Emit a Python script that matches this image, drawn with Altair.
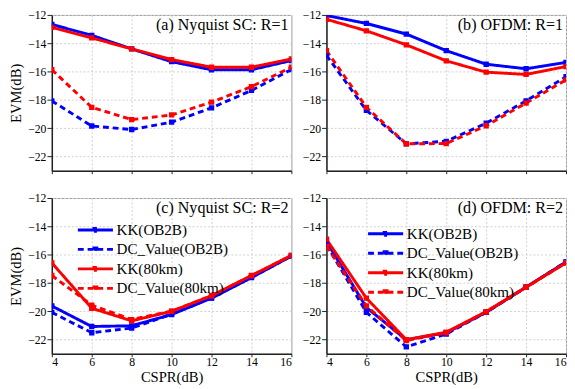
import altair as alt
import pandas as pd

cspr = [4, 6, 8, 10, 12, 14, 16]
series_names = ["KK(OB2B)", "DC_Value(OB2B)", "KK(80km)", "DC_Value(80km)"]
series_colors = ["#0000ff", "#0000ff", "#ff0000", "#ff0000"]
series_dashes = [[1, 0], [6, 4], [1, 0], [6, 4]]

panel_titles = ["(a) Nyquist SC: R=1", "(b) OFDM: R=1", "(c) Nyquist SC: R=2", "(d) OFDM: R=2"]

# (a) Nyquist SC, R=1
a_kk_ob2b = [-12.67, -13.44, -14.40, -15.30, -15.87, -15.87, -15.22]
a_dc_ob2b = [-18.07, -19.84, -20.09, -19.57, -18.56, -17.33, -15.85]
a_kk_80 = [-12.88, -13.62, -14.40, -15.15, -15.69, -15.69, -15.11]
a_dc_80 = [-15.87, -18.52, -19.39, -19.06, -18.16, -17.06, -15.69]

# (b) OFDM, R=1
b_kk_ob2b = [-12.04, -12.60, -13.35, -14.52, -15.48, -15.80, -15.35]
b_dc_ob2b = [-14.85, -18.74, -21.10, -20.92, -19.64, -18.07, -16.36]
b_kk_80 = [-12.31, -13.12, -14.11, -15.24, -16.04, -16.20, -15.64]
b_dc_80 = [-14.52, -18.52, -21.10, -21.08, -19.82, -18.22, -16.58]

# (c) Nyquist SC, R=2
c_kk_ob2b = [-19.62, -21.07, -21.02, -20.22, -19.07, -17.62, -16.10]
c_dc_ob2b = [-20.07, -21.51, -21.18, -20.20, -19.05, -17.60, -16.08]
c_kk_80 = [-16.58, -19.78, -20.67, -20.00, -18.89, -17.47, -16.05]
c_dc_80 = [-17.47, -19.56, -20.58, -19.98, -18.90, -17.48, -16.06]

# (d) OFDM, R=2
d_kk_ob2b = [-15.07, -19.73, -22.00, -21.51, -20.07, -18.29, -16.51]
d_dc_ob2b = [-15.29, -20.07, -22.51, -21.60, -20.07, -18.30, -16.52]
d_kk_80 = [-14.91, -19.07, -22.00, -21.47, -20.02, -18.29, -16.58]
d_dc_80 = [-15.40, -19.62, -22.07, -21.51, -20.03, -18.30, -16.57]

x_ticks = [4, 6, 8, 10, 12, 14, 16]
y_ticks = [-22, -20, -18, -16, -14, -12]

FONT = "Liberation Serif"
PW, PH = 246, 160


def make_df(lists):
    rows = []
    for name, vals in zip(series_names, lists):
        for x, v in zip(cspr, vals):
            rows.append({"CSPR": x, "EVM": v, "series": name})
    return pd.DataFrame(rows)


def panel(lists, title, top, left, legend_xy=None):
    df = make_df(lists)
    xax = dict(values=x_ticks, grid=True, tickSize=3, labelPadding=0, titlePadding=2)
    if top:
        xax.update(labels=False, title="")
    else:
        xax.update(title="CSPR(dB)")
    yax = dict(values=y_ticks, grid=True, tickSize=5, labelPadding=1, titlePadding=4)
    if left:
        yax.update(title="EVM(dB)")
    else:
        yax.update(title="")

    if legend_xy is None:
        leg = None
    else:
        leg = alt.Legend(
            orient="none", legendX=legend_xy[0], legendY=legend_xy[1], title=None,
            symbolType="M-3,0H3M-0.25,-0.25H0.25V0.25H-0.25Z", symbolSize=144,
            symbolStrokeWidth=3, labelOffset=14, rowPadding=3, padding=0,
            labelFont=FONT, labelFontSize=15.5, labelFontWeight="normal",
            labelColor="black", labelLimit=300,
        )

    x = alt.X("CSPR:Q", scale=alt.Scale(domain=[4, 16], nice=False, zero=False), axis=alt.Axis(**xax))
    y = alt.Y("EVM:Q", scale=alt.Scale(domain=[-23, -12], nice=False, zero=False), axis=alt.Axis(**yax))
    color = alt.Color("series:N", scale=alt.Scale(domain=series_names, range=series_colors),
                      sort=series_names, legend=leg)
    dash = alt.StrokeDash("series:N", scale=alt.Scale(domain=series_names, range=series_dashes),
                          sort=series_names, legend=leg)

    base = alt.Chart(df)
    lines = base.mark_line(strokeWidth=3, clip=True).encode(x=x, y=y, color=color, strokeDash=dash)
    pts = base.mark_point(shape="square", filled=True, size=30, opacity=1, clip=True).encode(
        x=x, y=y, color=color)
    label = alt.Chart(pd.DataFrame({"t": [title]})).mark_text(
        align="right", baseline="alphabetic", font=FONT, fontSize=16.5, color="black"
    ).encode(text="t:N", x=alt.value(PW - 3), y=alt.value(15))
    return alt.layer(lines, pts, label).properties(width=PW, height=PH)


pa = panel([a_kk_ob2b, a_dc_ob2b, a_kk_80, a_dc_80], panel_titles[0], True, True)
pb = panel([b_kk_ob2b, b_dc_ob2b, b_kk_80, b_dc_80], panel_titles[1], True, False)
pc = panel([c_kk_ob2b, c_dc_ob2b, c_kk_80, c_dc_80], panel_titles[2], False, True, (37, 25))
pd_ = panel([d_kk_ob2b, d_dc_ob2b, d_kk_80, d_dc_80], panel_titles[3], False, False, (53, 29))

chart = alt.concat(pa, pb, pc, pd_, columns=2, spacing={"row": 17, "column": 9}).resolve_legend(
    color="independent", strokeDash="independent"
).properties(
    padding={"left": 0, "top": -5, "right": 0, "bottom": 0},
    background="white",
).configure_view(
    stroke="#999999", strokeWidth=1
).configure_axis(
    labelFont=FONT, labelFontSize=12, labelColor="black",
    titleFont=FONT, titleFontSize=15, titleFontWeight="normal", titleColor="black",
    domainColor="#222222", domainWidth=1.5, tickColor="#222222", tickWidth=1,
    gridColor="#d0d0d0", gridDash=[2, 2], gridWidth=1,
).configure_legend(
    labelFont=FONT, labelFontSize=15.5, labelColor="black"
)

chart.save("out.html", embed_options={"renderer": "svg", "actions": False})
